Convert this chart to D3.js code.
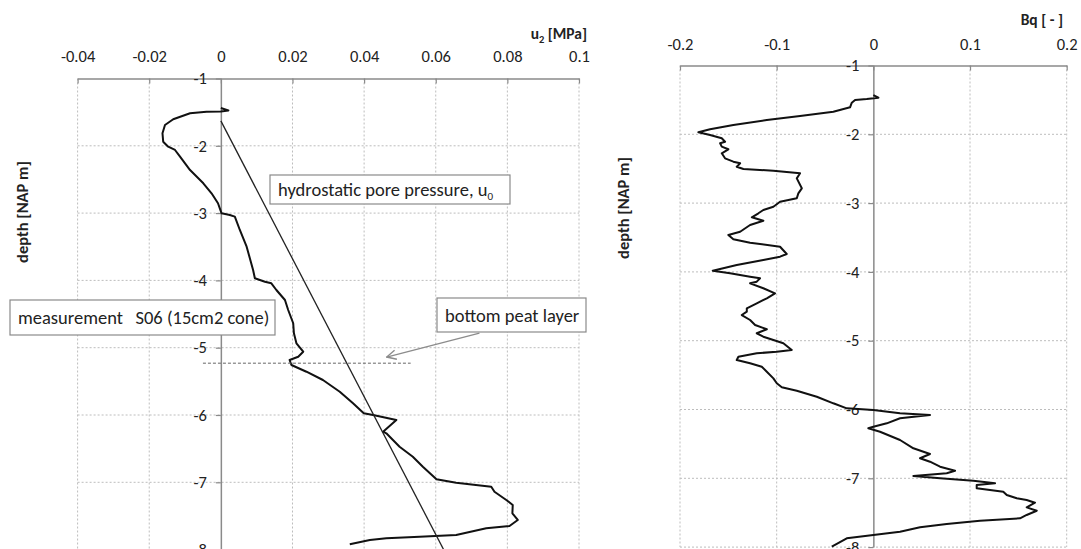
<!DOCTYPE html>
<html>
<head>
<meta charset="utf-8">
<script src="https://cdn.jsdelivr.net/npm/d3@7"></script>
<style>
  body { margin: 0; background: #fff; }
  svg { font-family: Carlito, Lato, "Open Sans", sans-serif; }
</style>
</head>
<body>
<svg id="chart" width="1081" height="549"></svg>
<script>
// CPT S06 profile: measured pore pressure u2 and Bq against depth

// [depth (NAP m), u2 (MPa)]
var u2Points = [
  [-1.438, 0], [-1.475, 0.0021], [-1.49, 0], [-1.493, -0.004], [-1.517, -0.0086],
  [-1.606, -0.0133], [-1.691, -0.0156], [-1.814, -0.0163], [-1.939, -0.0161], [-2.013, -0.0147],
  [-2.062, -0.0128], [-2.162, -0.0114], [-2.36, -0.0086], [-2.557, -0.0049], [-2.706, -0.0026],
  [-2.854, -0.0008], [-3.003, 0.0002], [-3.028, 0.0025], [-3.053, 0.0039], [-3.251, 0.0053],
  [-3.499, 0.0072], [-3.845, 0.009], [-3.969, 0.0095], [-4.019, 0.0123], [-4.043, 0.0141],
  [-4.143, 0.0155], [-4.291, 0.0179], [-4.44, 0.0188], [-4.637, 0.0202], [-4.786, 0.0204],
  [-4.935, 0.0211], [-5.059, 0.023], [-5.134, 0.0216], [-5.183, 0.0192], [-5.257, 0.0197],
  [-5.357, 0.0239], [-5.48, 0.0285], [-5.654, 0.0332], [-5.826, 0.0369], [-5.975, 0.0399],
  [-6.0, 0.0425], [-6.074, 0.049], [-6.248, 0.0453], [-6.272, 0.0462], [-6.471, 0.0499],
  [-6.62, 0.0536], [-6.768, 0.0564], [-6.955, 0.0602], [-7.006, 0.0657], [-7.065, 0.0755],
  [-7.14, 0.0764], [-7.263, 0.0797], [-7.337, 0.0815], [-7.461, 0.0814], [-7.56, 0.0829],
  [-7.649, 0.0806], [-7.684, 0.0741], [-7.783, 0.0657], [-7.808, 0.0555], [-7.832, 0.0462],
  [-7.857, 0.0416], [-7.921, 0.036]
];

// [depth (NAP m), Bq (-)]
var bqPoints = [
  [-1.429, 0], [-1.468, 0.0052], [-1.487, -0.0068], [-1.501, -0.0189], [-1.541, -0.0223],
  [-1.608, -0.0241], [-1.672, -0.0414], [-1.734, -0.0758], [-1.792, -0.1102], [-1.865, -0.1448],
  [-1.927, -0.1689], [-1.971, -0.181], [-2.01, -0.1689], [-2.058, -0.1568], [-2.108, -0.1534],
  [-2.131, -0.1585], [-2.18, -0.1568], [-2.218, -0.15], [-2.276, -0.1568], [-2.349, -0.1534],
  [-2.398, -0.1448], [-2.422, -0.1378], [-2.471, -0.1413], [-2.504, -0.1344], [-2.529, -0.1034],
  [-2.567, -0.0758], [-2.64, -0.0792], [-2.785, -0.074], [-2.858, -0.0776], [-2.93, -0.0792],
  [-2.98, -0.0965], [-3.052, -0.1034], [-3.1, -0.1138], [-3.148, -0.1189], [-3.206, -0.1257],
  [-3.256, -0.1138], [-3.318, -0.1275], [-3.416, -0.1378], [-3.464, -0.15], [-3.526, -0.1448],
  [-3.576, -0.1275], [-3.634, -0.0965], [-3.74, -0.0896], [-3.779, -0.0965], [-3.827, -0.1138],
  [-3.9, -0.1413], [-3.983, -0.1661], [-4.02, -0.1482], [-4.07, -0.1275], [-4.093, -0.1172],
  [-4.142, -0.1206], [-4.166, -0.1275], [-4.238, -0.1138], [-4.311, -0.1017], [-4.384, -0.1102],
  [-4.456, -0.1206], [-4.529, -0.1309], [-4.578, -0.1309], [-4.627, -0.1361], [-4.699, -0.1275],
  [-4.771, -0.1223], [-4.834, -0.1102], [-4.892, -0.1206], [-4.942, -0.1138], [-4.99, -0.1034],
  [-5.038, -0.0931], [-5.135, -0.0844], [-5.16, -0.0999], [-5.183, -0.1206], [-5.233, -0.1396],
  [-5.281, -0.1413], [-5.328, -0.1275], [-5.378, -0.1154], [-5.451, -0.1102], [-5.547, -0.1034],
  [-5.619, -0.0999], [-5.677, -0.0947], [-5.727, -0.0792], [-5.814, -0.0585], [-5.91, -0.0414],
  [-5.983, -0.0275], [-6.007, 0], [-6.055, 0.0276], [-6.08, 0.0586], [-6.128, 0.0276],
  [-6.201, 0.0139], [-6.25, 0], [-6.273, -0.0052], [-6.323, 0.0069], [-6.443, 0.0276],
  [-6.564, 0.0414], [-6.647, 0.0586], [-6.709, 0.0483], [-6.759, 0.0586], [-6.831, 0.069],
  [-6.89, 0.0845], [-6.927, 0.0759], [-6.967, 0.0414], [-7.0, 0.069], [-7.035, 0.1034],
  [-7.073, 0.1259], [-7.097, 0.1069], [-7.145, 0.1069], [-7.17, 0.1207], [-7.195, 0.1344],
  [-7.243, 0.138], [-7.291, 0.1483], [-7.316, 0.1586], [-7.355, 0.1672], [-7.422, 0.1586],
  [-7.471, 0.169], [-7.533, 0.1586], [-7.581, 0.1517], [-7.616, 0.1103], [-7.664, 0.0759],
  [-7.712, 0.0483], [-7.776, 0.0276], [-7.824, 0], [-7.872, -0.0275], [-7.994, -0.043]
];

// hydrostatic pore pressure u0 (groundwater at about -1.63 NAP m)
var hydroPoints = [[-1.63, 0], [-8, 0.0622]];

// bottom of the peat layer
var peatDepth = -5.23;
var peatRange = [-0.005, 0.053];
var peatArrow = [[-4.782, 0.0722], [-5.139, 0.0463]];

var depthTicks = [-1, -2, -3, -4, -5, -6, -7, -8];
var u2Ticks = [-0.04, -0.02, 0, 0.02, 0.04, 0.06, 0.08, 0.1];
var u2TickLabels = ["-0.04", "-0.02", "0", "0.02", "0.04", "0.06", "0.08", "0.1"];
var bqTicks = [-0.2, -0.1, 0, 0.1, 0.2];
var bqTickLabels = ["-0.2", "-0.1", "0", "0.1", "0.2"];

var svg = d3.select("#chart");

svg.append("defs").append("marker")
    .attr("id", "arrow")
    .attr("viewBox", "0 0 10 10")
    .attr("refX", 9).attr("refY", 5)
    .attr("markerWidth", 9).attr("markerHeight", 9)
    .attr("orient", "auto")
    .append("path")
    .attr("d", "M1,1 L9,5 L1,9")
    .attr("fill", "none")
    .attr("stroke", "#8c8c8c")
    .attr("stroke-width", 1.2);

var drawProfile = function(cfg) {
    var g = svg.append("g");

    var x = d3.scaleLinear().domain(cfg.xDomain).range(cfg.xRange);
    var y = d3.scaleLinear().domain([-1, -8]).range(cfg.yRange);

    // dotted grid
    g.selectAll(".vgrid")
        .data(cfg.xTicks.filter(function(d) { return d !== 0; }))
        .enter().append("line")
        .attr("x1", function(d) { return x(d); })
        .attr("x2", function(d) { return x(d); })
        .attr("y1", y(-1))
        .attr("y2", y(-8))
        .attr("stroke", "#bdbdbd")
        .attr("stroke-dasharray", "2,2");

    g.selectAll(".hgrid")
        .data(depthTicks.slice(1))
        .enter().append("line")
        .attr("x1", cfg.xRange[0])
        .attr("x2", cfg.xRange[1])
        .attr("y1", function(d) { return y(d); })
        .attr("y2", function(d) { return y(d); })
        .attr("stroke", "#bdbdbd")
        .attr("stroke-dasharray", "2,2");

    // value axis along the top
    var xAxis = d3.axisTop(x)
        .tickValues(cfg.xTicks)
        .tickFormat(function(d, i) { return cfg.xLabels[i]; })
        .tickSizeInner(-5)
        .tickSizeOuter(0)
        .tickPadding(cfg.labelPad);

    var xg = g.append("g")
        .attr("transform", "translate(0," + y(-1) + ")")
        .call(xAxis);
    xg.select(".domain").attr("stroke", "#8a8a8a").attr("stroke-width", 1.5);
    xg.selectAll(".tick line").attr("stroke", "#8a8a8a").attr("stroke-width", 1.2);
    xg.selectAll(".tick text")
        .attr("fill", "#222")
        .style("font-size", "16.5px")
        .style("font-family", "Carlito, Lato, sans-serif");

    // depth axis on the zero line
    var yAxis = d3.axisLeft(y)
        .tickValues(depthTicks)
        .tickFormat(function(d) { return String(d); })
        .tickSizeInner(5)
        .tickSizeOuter(0)
        .tickPadding(9);

    var yg = g.append("g")
        .attr("transform", "translate(" + x(0) + ",0)")
        .call(yAxis);
    yg.select(".domain").attr("stroke", "#8a8a8a").attr("stroke-width", 1.5);
    yg.selectAll(".tick line").attr("stroke", "#8a8a8a").attr("stroke-width", 1.2);
    yg.selectAll(".tick text")
        .attr("fill", "#222")
        .style("font-size", "16.5px")
        .style("font-family", "Carlito, Lato, sans-serif");

    // axis titles
    var title = g.append("text")
        .attr("x", cfg.titlePos[0])
        .attr("y", cfg.titlePos[1])
        .attr("text-anchor", "end")
        .style("font-size", "15.5px")
        .style("font-weight", "bold")
        .attr("fill", "#222");
    cfg.title(title);

    g.append("text")
        .attr("transform", "translate(" + cfg.depthTitlePos[0] + "," + cfg.depthTitlePos[1] + ") rotate(-90)")
        .attr("text-anchor", "middle")
        .style("font-size", "16.5px")
        .style("font-weight", "bold")
        .attr("fill", "#222")
        .text("depth [NAP m]");

    var line = d3.line()
        .x(function(d) { return x(d[1]); })
        .y(function(d) { return y(d[0]); });

    g.append("path")
        .datum(cfg.points)
        .attr("d", line)
        .attr("fill", "none")
        .attr("stroke", "#111")
        .attr("stroke-width", 2)
        .attr("stroke-linejoin", "round");

    return { g: g, x: x, y: y, line: line };
};

var left = drawProfile({
    xDomain: [-0.04, 0.1], xRange: [77.6, 579],
    yRange: [78.5, 549.6],
    xTicks: u2Ticks, xLabels: u2TickLabels, labelPad: 17,
    titlePos: [587, 39],
    depthTitlePos: [28, 212],
    points: u2Points,
    title: function(t) {
        t.append("tspan").text("u");
        t.append("tspan").attr("dy", 4).style("font-size", "10.5px").text("2");
        t.append("tspan").attr("dy", -4).text(" [MPa]");
    }
});

var right = drawProfile({
    xDomain: [-0.2, 0.2], xRange: [680, 1066.7],
    yRange: [65.5, 547.1],
    xTicks: bqTicks, xLabels: bqTickLabels, labelPad: 16,
    titlePos: [1063, 25],
    depthTitlePos: [629, 208],
    points: bqPoints,
    title: function(t) { t.text("Bq [ - ]"); }
});

// hydrostatic line and bottom peat layer marker on the u2 panel
left.g.append("path")
    .datum(hydroPoints)
    .attr("d", left.line)
    .attr("fill", "none")
    .attr("stroke", "#222")
    .attr("stroke-width", 1.3);

left.g.append("line")
    .attr("x1", left.x(peatRange[0]))
    .attr("x2", left.x(peatRange[1]))
    .attr("y1", left.y(peatDepth))
    .attr("y2", left.y(peatDepth))
    .attr("stroke", "#666")
    .attr("stroke-dasharray", "3,2");

left.g.append("line")
    .attr("x1", left.x(peatArrow[0][1]))
    .attr("y1", left.y(peatArrow[0][0]))
    .attr("x2", left.x(peatArrow[1][1]))
    .attr("y2", left.y(peatArrow[1][0]))
    .attr("stroke", "#8c8c8c")
    .attr("stroke-width", 1.3)
    .attr("marker-end", "url(#arrow)");

// callout boxes
var callout = function(box, build) {
    svg.append("rect")
        .attr("x", box[0]).attr("y", box[1])
        .attr("width", box[2]).attr("height", box[3])
        .attr("fill", "#fff")
        .attr("stroke", "#8a8a8a")
        .attr("stroke-width", 1.2);
    var t = svg.append("text")
        .attr("x", box[0] + 8)
        .attr("y", box[1] + box[3] / 2 + 6.5)
        .attr("fill", "#222")
        .style("font-size", "18.5px")
        .style("white-space", "pre");
    build(t);
};

callout([270, 175, 240, 29], function(t) {
    t.append("tspan").text("hydrostatic pore pressure, u");
    t.append("tspan").attr("dy", 4).style("font-size", "11px").text("0");
});
callout([10, 300, 265, 35], function(t) { t.text("measurement   S06 (15cm2 cone)"); });
callout([437, 298, 149, 34], function(t) { t.text("bottom peat layer"); });
</script>
</body>
</html>
